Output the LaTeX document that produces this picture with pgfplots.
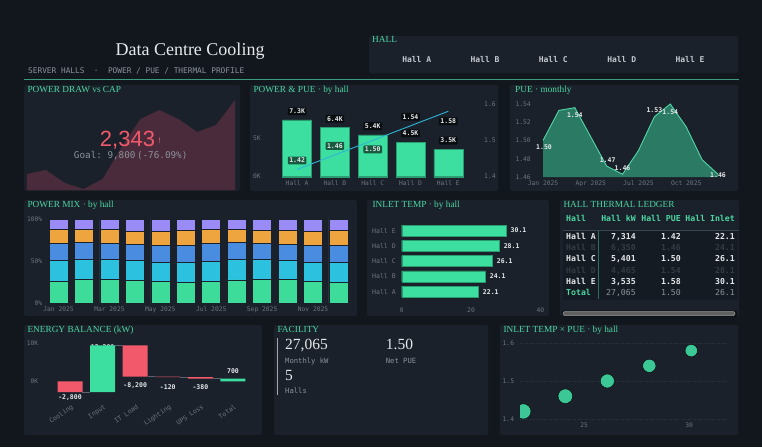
\documentclass[border=0pt]{standalone}
\usepackage{fontspec}
\setmainfont{Liberation Serif}
\setsansfont{Liberation Sans}
\setmonofont{DejaVu Sans Mono}
\usepackage{pgfplots}
\usepackage{pgfplotstable}
\pgfplotsset{compat=1.18}

\definecolor{bg}{HTML}{12161D}
\definecolor{panel}{HTML}{1A212A}
\definecolor{accent}{HTML}{4CD6A2}
\definecolor{barg}{HTML}{3DDFA0}
\definecolor{tickc}{HTML}{6C7480}
\definecolor{txt}{HTML}{E6E9EC}
\definecolor{hallc}{HTML}{C5C9CF}
\definecolor{kpired}{HTML}{F25A6C}
\definecolor{pueline}{HTML}{2FB4D8}
\definecolor{areafill}{HTML}{4A2B3B}
\definecolor{puefill}{HTML}{2B7A63}
\definecolor{pueedge}{HTML}{52D8A8}
\definecolor{mixg}{HTML}{3DDC9A}
\definecolor{mixc}{HTML}{2CC2DF}
\definecolor{mixb}{HTML}{4A8DE0}
\definecolor{mixo}{HTML}{EFA53F}
\definecolor{mixp}{HTML}{9A8BF6}
\definecolor{scat}{HTML}{3CC896}
\definecolor{subgrey}{HTML}{8A929C}
\definecolor{faded}{HTML}{343B45}
\definecolor{tblbg}{HTML}{151B22}
\definecolor{tblline}{HTML}{3A4552}
\definecolor{vline}{HTML}{2E6E5C}
\definecolor{wfline}{HTML}{5A626C}
\definecolor{gridc}{HTML}{2E3640}
\definecolor{sepline}{HTML}{3A9C7C}
\definecolor{wfred}{HTML}{F25A6C}

\newcommand\mf[1]{\fontsize{#1}{#1}\selectfont\ttfamily}
\newcommand\mfb[1]{\fontsize{#1}{#1}\selectfont\ttfamily\bfseries}
\newcommand\tf{\fontsize{9.3}{9.3}\selectfont\rmfamily}

\pgfplotsset{dstyle/.style={scale only axis, anchor=south west,
  axis line style={draw=none}, major tick length=0pt, tick style={draw=none},
  ticklabel style={font=\mf{6.3}, text=tickc}, enlargelimits=false, clip=false}}
\tikzset{plab/.style={font=\mfb{6.5}, text=txt, fill=black, fill opacity=0.6, text opacity=1, inner sep=1.5pt, rounded corners=1pt},
  vlab/.style={font=\mfb{6.5}, text=txt, inner sep=0pt},
  ptitle/.style={font=\tf, text=accent, anchor=mid west, inner sep=0pt}}

\pgfplotstableread{
m g c b o p
0 25.8 24.6 21.0 16.7 11.9
1 28.2 23.4 20.6 15.9 11.9
2 28.2 23.8 19.0 16.3 12.7
3 27.0 23.8 18.6 15.9 14.7
4 25.8 23.0 19.5 17.0 14.7
5 25.0 23.4 20.6 17.5 13.5
6 25.8 23.8 21.0 17.1 12.3
7 27.4 24.6 20.2 15.9 11.9
8 28.2 23.4 19.8 15.5 13.1
9 28.2 22.6 19.4 15.9 13.9
10 25.8 22.6 19.9 17.0 14.7
11 25.0 23.0 20.3 18.2 13.5
}\mixtable

\pgfplotstableread{
k base neg pos
0 0 -2.8 0
1 -2.8 0 12.2
2 9.4 -8.2 0
3 1.2 -0.12 0
4 1.08 -0.38 0
5 0 0 0.7
}\wftable

\begin{document}
\begin{tikzpicture}
\path[use as bounding box] (0pt,0pt) rectangle (762pt,-447pt);
\fill[bg] (0pt,0pt) rectangle (762pt,-447pt);
\begin{scope}[x=1pt,y=1pt]
\fill[panel, rounded corners=2pt] (369,-36) rectangle (738,-73);
\fill[panel, rounded corners=2pt] (24,-85) rectangle (240,-191);
\fill[panel, rounded corners=2pt] (250,-85) rectangle (498,-191);
\fill[panel, rounded corners=2pt] (510,-85) rectangle (738,-191);
\fill[panel, rounded corners=2pt] (24,-200) rectangle (357,-316);
\fill[panel, rounded corners=2pt] (367,-200) rectangle (549,-316);
\fill[panel, rounded corners=2pt] (560,-200) rectangle (739,-316);
\fill[panel, rounded corners=2pt] (24,-325) rectangle (262,-435);
\fill[panel, rounded corners=2pt] (274,-325) rectangle (488,-435);
\fill[panel, rounded corners=2pt] (500,-325) rectangle (738,-435);
\draw[sepline, line width=1.2pt] (24,-79.3) -- (739,-79.3);
\node[text=txt, font=\fontsize{18}{18}\selectfont\rmfamily, anchor=base, inner sep=0pt] at (190,-55) {Data Centre Cooling};
\node[text=subgrey, font=\mf{7.8}, anchor=mid west, inner sep=0pt] at (28,-71) {SERVER HALLS\ \ ·\ \ POWER / PUE / THERMAL PROFILE};
\node[ptitle] at (372,-40.7) {HALL};
\foreach \xx/\hh in {416.7/A,485/B,553.3/C,621.7/D,690/E}
  \node[font=\mfb{8}, text=hallc, inner sep=0pt] at (\xx,-59.3) {Hall \hh};
\node[ptitle] at (27.3,-90.7) {POWER DRAW vs CAP};
\node[ptitle] at (253.3,-90.7) {POWER \& PUE · by hall};
\node[ptitle] at (515,-90.7) {PUE · monthly};
\node[ptitle] at (27.3,-205.7) {POWER MIX · by hall};
\node[ptitle] at (372.3,-205.7) {INLET TEMP · by hall};
\node[ptitle] at (563.3,-205.7) {HALL THERMAL LEDGER};
\node[ptitle] at (27.3,-329.7) {ENERGY BALANCE (kW)};
\node[ptitle] at (277.3,-329.7) {FACILITY};
\node[ptitle] at (503.3,-329.7) {INLET TEMP × PUE · by hall};
\end{scope}

% P1 area
\begin{axis}[dstyle, hide axis, at={(27pt,-190pt)}, width=208pt, height=90pt, xmin=0, xmax=11, ymin=0, ymax=90]
\addplot[fill=areafill, draw=none] coordinates {(0,16) (1,20) (2,7) (3,1) (4,11) (5,43) (6,71) (7,80) (8,71) (9,58) (10,65) (11,90)} \closedcycle;
\end{axis}

% P2 bars
\begin{axis}[dstyle, at={(278.2pt,-176.7pt)}, width=189pt, height=72.7pt,
  xmin=-0.5, xmax=4.5, ymin=0, ymax=9.375, ybar, bar width=29pt,
  xtick={0,1,2,3,4}, xticklabels={Hall A,Hall B,Hall C,Hall D,Hall E},
  ytick={0,5}, yticklabels={0K,5K}, yticklabel style={xshift=-14pt},
  point meta=explicit symbolic, nodes near coords,
  nodes near coords style={plab, anchor=center, yshift=8.7pt}]
\addplot[fill=barg, draw=barg!70!black, line width=0.4pt] coordinates {(0,7.314) [7.3K] (1,6.350) [6.4K] (2,5.401) [5.4K] (3,4.465) [4.5K] (4,3.535) [3.5K]};
\end{axis}
\begin{axis}[dstyle, at={(278.2pt,-176.7pt)}, width=189pt, height=72.7pt,
  xmin=-0.5, xmax=4.5, ymin=1.4, ymax=1.6, xtick=\empty,
  ytick={1.4,1.5,1.6}, yticklabels={1.4,1.5,1.6}, yticklabel pos=right, yticklabel style={xshift=13.5pt}]
\addplot[pueline, line width=0.9pt, mark=none] coordinates {(0,1.42) (1,1.46) (2,1.50) (3,1.54) (4,1.58)};
\node[plab, yshift=9pt] at (axis cs:0,1.42) {1.42};
\node[plab, yshift=9pt] at (axis cs:1,1.46) {1.46};
\node[plab, yshift=-9pt] at (axis cs:2,1.50) {1.50};
\node[plab, yshift=9pt] at (axis cs:3,1.54) {1.54};
\node[plab, yshift=-10pt] at (axis cs:4,1.58) {1.58};
\end{axis}

% P3 PUE monthly
\begin{axis}[dstyle, at={(543pt,-177pt)}, width=175pt, height=73pt,
  xmin=0, xmax=11, ymin=1.46, ymax=1.54,
  xtick={0,3,6,9}, xticklabels={Jan 2025,Apr 2025,Jul 2025,Oct 2025},
  ytick={1.46,1.48,1.5,1.52,1.54}, yticklabels={1.46,1.48,1.50,1.52,1.54}, yticklabel style={xshift=-8.7pt}]
\addplot[fill=puefill, draw=none] coordinates {(0,1.46) (0,1.500) (1,1.533) (2,1.536) (3,1.504) (4,1.472) (5,1.463) (6,1.489) (7,1.526) (8,1.540) (9,1.515) (10,1.479) (11,1.463) (11,1.46)} -- cycle;
\addplot[pueedge, line width=0.9pt, mark=none] coordinates {(0,1.500) (1,1.533) (2,1.536) (3,1.504) (4,1.472) (5,1.463) (6,1.489) (7,1.526) (8,1.540) (9,1.515) (10,1.479) (11,1.463)};
\node[vlab, xshift=1pt, yshift=-7pt] at (axis cs:0,1.500) {1.50};
\node[vlab, yshift=-8pt] at (axis cs:2,1.536) {1.54};
\node[vlab, xshift=1pt, yshift=6pt] at (axis cs:4,1.472) {1.47};
\node[vlab, yshift=6pt] at (axis cs:5,1.463) {1.46};
\node[vlab, yshift=7pt] at (axis cs:7,1.526) {1.53};
\node[vlab, yshift=-8.6pt] at (axis cs:8,1.540) {1.54};
\node[vlab, yshift=-1pt] at (axis cs:11,1.463) {1.46};
\end{axis}

% P4 power mix
\begin{axis}[dstyle, at={(45.8pt,-303pt)}, width=305.4pt, height=84pt,
  xmin=-0.5, xmax=11.5, ymin=0, ymax=100, ybar stacked, bar width=19pt,
  xtick={0,2,4,6,8,10}, xticklabels={Jan 2025,Mar 2025,May 2025,Jul 2025,Sep 2025,Nov 2025},
  ytick={0,50,100}, yticklabels={0\%,50\%,100\%}]
\addplot[fill=mixg, draw=panel, line width=0.6pt] table[x=m, y=g] {\mixtable};
\addplot[fill=mixc, draw=panel, line width=0.6pt] table[x=m, y=c] {\mixtable};
\addplot[fill=mixb, draw=panel, line width=0.6pt] table[x=m, y=b] {\mixtable};
\addplot[fill=mixo, draw=panel, line width=0.6pt] table[x=m, y=o] {\mixtable};
\addplot[fill=mixp, draw=panel, line width=0.6pt] table[x=m, y=p] {\mixtable};
\end{axis}

% P5 inlet temp
\begin{axis}[dstyle, at={(401.7pt,-299.3pt)}, width=138.6pt, height=76.3pt,
  xmin=0, xmax=40, ymin=-0.5, ymax=4.5, xbar, bar width=11pt,
  ytick={0,1,2,3,4}, yticklabels={Hall A,Hall B,Hall C,Hall D,Hall E}, yticklabel style={xshift=-2.5pt, font=\mf{6.5}},
  xtick={0,20,40}, xticklabels={0,20,40}, xticklabel style={yshift=-5pt},
  point meta=explicit symbolic, nodes near coords,
  nodes near coords style={vlab, anchor=west, xshift=4.5pt}]
\addplot[fill=barg, draw=barg!70!black, line width=0.4pt] coordinates {(22.1,0) [22.1] (24.1,1) [24.1] (26.1,2) [26.1] (28.1,3) [28.1] (30.1,4) [30.1]};
\end{axis}

% P7 waterfall
\begin{axis}[dstyle, at={(53.7pt,-396.6pt)}, width=195.6pt, height=53.6pt,
  xmin=-0.5, xmax=5.5, ymin=-4, ymax=10, ybar stacked, stack negative=on previous, bar width=25pt,
  ytick={0,10}, yticklabels={0K,10K}, yticklabel style={xshift=-12pt},
  xtick={0,1,2,3,4,5}, xticklabels={Cooling,Input,IT Load,Lighting,UPS Loss,Total},
  xticklabel style={rotate=35, anchor=north east, yshift=-3pt, font=\mf{6.5}}]
\addplot[draw=none, fill=none] table[x=k, y=base] {\wftable};
\addplot[draw=none, fill=wfred] table[x=k, y=neg] {\wftable};
\addplot[draw=none, fill=barg] table[x=k, y=pos] {\wftable};
\draw[wfline, line width=0.8pt] (axis cs:0.383,-2.8) -- (axis cs:0.617,-2.8);
\draw[wfline, line width=0.8pt] (axis cs:1.383,9.4) -- (axis cs:1.617,9.4);
\draw[wfline, line width=0.8pt] (axis cs:2.383,1.2) -- (axis cs:2.617,1.2);
\draw[wfline, line width=0.8pt] (axis cs:3.383,1.08) -- (axis cs:3.617,1.08);
\draw[wfline, line width=0.8pt] (axis cs:4.383,0.7) -- (axis cs:4.617,0.7);
\node[vlab, yshift=-6pt] at (axis cs:0,-2.8) {-2,800};
\node[vlab, yshift=-2pt] at (axis cs:1,9.4) {12,200};
\node[vlab, yshift=-9pt] at (axis cs:2,1.2) {-8,200};
\node[vlab, yshift=-9.5pt] at (axis cs:3,1.08) {-120};
\node[vlab, yshift=-8.6pt] at (axis cs:4,0.7) {-380};
\node[vlab, yshift=7.6pt] at (axis cs:5,0.7) {700};
\end{axis}

% P9 scatter
\begin{axis}[dstyle, at={(520pt,-419pt)}, width=208pt, height=76pt,
  xmin=21.94, xmax=31.85, ymin=1.4, ymax=1.6, clip=true, clip marker paths=true,
  xtick={25,30}, xticklabels={25,30},
  ytick={1.4,1.5,1.6}, yticklabels={1.4,1.5,1.6}, yticklabel style={xshift=-2.4pt},
  ymajorgrids, major grid style={dotted, gridc, line width=0.6pt}]
\addplot[only marks, mark=*, mark size=7.6pt, mark options={fill=scat, draw=none}] coordinates {(22.1,1.42)};
\addplot[only marks, mark=*, mark size=7.3pt, mark options={fill=scat, draw=none}] coordinates {(24.1,1.46)};
\addplot[only marks, mark=*, mark size=7.0pt, mark options={fill=scat, draw=none}] coordinates {(26.1,1.50)};
\addplot[only marks, mark=*, mark size=6.6pt, mark options={fill=scat, draw=none}] coordinates {(28.1,1.54)};
\addplot[only marks, mark=*, mark size=6.2pt, mark options={fill=scat, draw=none}] coordinates {(30.1,1.58)};
\end{axis}

\begin{scope}[x=1pt,y=1pt]
% KPI
\node[text=kpired, font=\fontsize{22}{22}\selectfont\sffamily, anchor=base, inner sep=0pt] at (127.5,-146.7) {2,343};
\node[text=kpired, font=\fontsize{8}{8}\selectfont\sffamily, anchor=base, inner sep=0pt] at (159.5,-143.3) {!};
\node[text=subgrey, font=\mf{9.3}, anchor=mid, inner sep=0pt] at (130.7,-156) {Goal: 9,800\hspace{1.5pt}(-76.09\%)};
% table
\fill[tblbg] (563,-231) rectangle (738,-300);
\draw[tblline, line width=0.8pt] (563,-230.5) -- (739,-230.5);
\draw[vline, line width=0.8pt] (598,-231) -- (598,-299);
\node[font=\mfb{8.2}, text=accent, anchor=mid west, inner sep=0pt] at (566,-219) {Hall};
\node[font=\mfb{8.2}, text=accent, anchor=mid east, inner sep=0pt] at (636,-219) {Hall kW};
\node[font=\mfb{8.2}, text=accent, anchor=mid east, inner sep=0pt] at (681,-219) {Hall PUE};
\node[font=\mfb{8.2}, text=accent, anchor=mid east, inner sep=0pt] at (735,-219) {Hall Inlet};
\foreach \yy/\aa/\bb/\cc/\dd/\col in {237.3/Hall A/{7,314}/1.42/22.1/txt, 248.5/Hall B/{6,350}/1.46/24.1/faded, 259.5/Hall C/{5,401}/1.50/26.1/txt, 270.7/Hall D/{4,465}/1.54/28.1/faded, 282/Hall E/{3,535}/1.58/30.1/txt} {
  \node[font=\mfb{8.2}, text=\col, anchor=mid west, inner sep=0pt] at (566,-\yy) {\aa};
  \node[font=\mfb{8.2}, text=\col, anchor=mid east, inner sep=0pt] at (636,-\yy) {\bb};
  \node[font=\mfb{8.2}, text=\col, anchor=mid east, inner sep=0pt] at (681,-\yy) {\cc};
  \node[font=\mfb{8.2}, text=\col, anchor=mid east, inner sep=0pt] at (735,-\yy) {\dd};
}
\node[font=\mfb{8.2}, text=accent, anchor=mid west, inner sep=0pt] at (566,-293.2) {Total};
\node[font=\mf{8.2}, text=subgrey, anchor=mid east, inner sep=0pt] at (636,-293.2) {27,065};
\node[font=\mf{8.2}, text=subgrey, anchor=mid east, inner sep=0pt] at (681,-293.2) {1.50};
\node[font=\mf{8.2}, text=subgrey, anchor=mid east, inner sep=0pt] at (735,-293.2) {26.1};
\fill[black!60!panel, rounded corners=2pt] (562,-310.5) rectangle (737,-316.5);
\fill[gray!75!black, draw=gray!80, line width=0.5pt, rounded corners=2pt] (563,-311.5) rectangle (735,-315.7);
% facility
\fill[gray!70] (276.6,-338) rectangle (278.1,-395);
\node[text=txt, font=\fontsize{15.5}{15.5}\selectfont\rmfamily, anchor=mid west, inner sep=0pt] at (285,-347) {27,065};
\node[text=subgrey, font=\mf{7.2}, anchor=mid west, inner sep=0pt] at (285,-360.7) {Monthly kW};
\node[text=txt, font=\fontsize{15.5}{15.5}\selectfont\rmfamily, anchor=mid west, inner sep=0pt] at (385.7,-347) {1.50};
\node[text=subgrey, font=\mf{7.2}, anchor=mid west, inner sep=0pt] at (385.7,-360.7) {Net PUE};
\node[text=txt, font=\fontsize{15.5}{15.5}\selectfont\rmfamily, anchor=mid west, inner sep=0pt] at (285,-378) {5};
\node[text=subgrey, font=\mf{7.2}, anchor=mid west, inner sep=0pt] at (285,-390.7) {Halls};
\end{scope}
\end{tikzpicture}
\end{document}
